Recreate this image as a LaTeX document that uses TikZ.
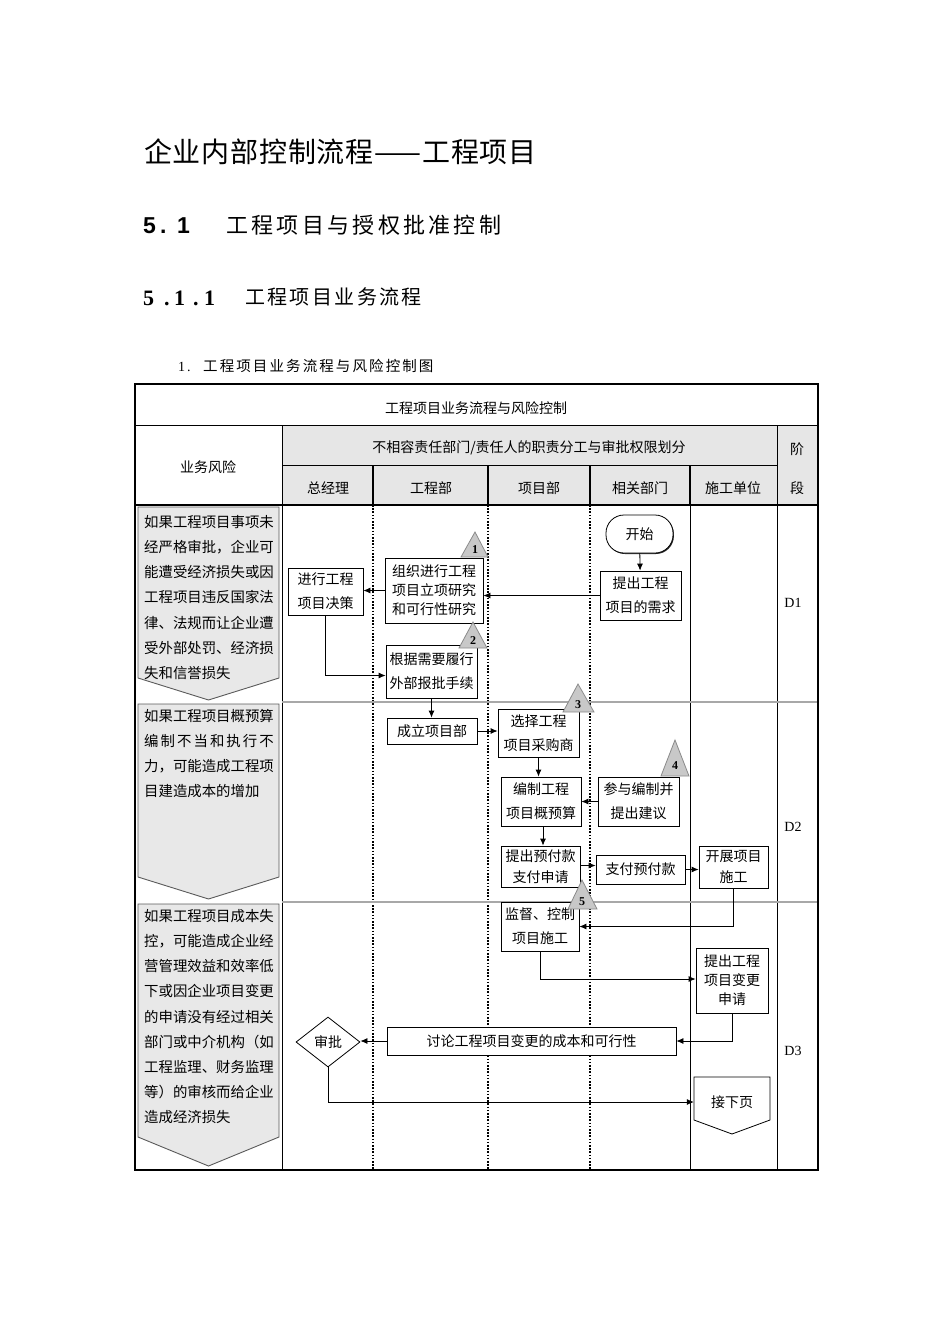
\documentclass[tikz,border=0pt]{standalone}
\usepackage{fontspec}
\setmainfont{Liberation Serif}
\newfontfamily\cjk{Noto Sans CJK SC}
\newfontfamily\arialf{Liberation Sans}
\usetikzlibrary{arrows.meta,shapes.geometric,shadows,calc}
\definecolor{hdr}{HTML}{E6E6E6}
\definecolor{riskfill}{HTML}{E8E8E8}
\definecolor{riskline}{HTML}{5A5A5A}
\definecolor{trifill}{HTML}{C8C8C8}
\definecolor{triline}{HTML}{8A8A8A}
\definecolor{rowline}{HTML}{A8A8A8}
\makeatletter
\def\sp@ced#1{\ifx#1\relax\else#1\hskip\spgap\relax\expandafter\sp@ced\fi}
\newcommand\spc[2]{\def\spgap{#2}\sp@ced#1\relax}
\makeatother
\begin{document}
\begin{tikzpicture}[x=1pt,y=-1pt,
  box/.style={draw, line width=0.8pt, fill=white, align=center, inner sep=1pt,
    font=\cjk\fontsize{14}{24}\selectfont,
    drop shadow={shadow xshift=0.9pt, shadow yshift=-1pt, opacity=1, fill=black!85}},
  arr/.style={-{Latex[length=7pt,width=6pt]}, line width=0.8pt},
  plain/.style={line width=0.8pt},
  tbl/.style={font=\cjk\fontsize{14}{14}\selectfont, inner sep=0pt},
  risktext/.style={anchor=north west, inner sep=0pt, align=left,
    font=\cjk\fontsize{14.4}{25.2}\selectfont},
  riskshape/.style={draw=riskline, fill=riskfill, line width=0.9pt},
  trist/.style={draw=triline, fill=trifill, line width=0.8pt},
  trinum/.style={inner sep=0pt, font=\bfseries\fontsize{12}{12}\selectfont},
  dotline/.style={line width=1.3pt, dash pattern=on 1.6pt off 1.6pt},
  stage/.style={inner sep=0pt, font=\fontsize{14}{14}\selectfont},
  hd/.style={anchor=base west, inner sep=0pt}
]
\useasboundingbox (0,0) rectangle (950,1344);

% ---------- headings ----------
\node[anchor=west, inner sep=0pt, font=\cjk\fontsize{28}{28}\selectfont] (title) at (144,152) {\spc{企业内部控制流程}{0.8pt}——\hskip0.8pt\spc{工程项目}{0.8pt}};

\node[hd, font=\arialf\bfseries\fontsize{23}{23}\selectfont] (h2a) at (143,233) {5};
\node[hd, font=\arialf\bfseries\fontsize{23}{23}\selectfont] (h2b) at (160,233) {.};
\node[hd, font=\arialf\bfseries\fontsize{23}{23}\selectfont] (h2c) at (177,233) {1};
\node[anchor=west, inner sep=0pt, font=\cjk\fontsize{22}{22}\selectfont] (h2t) at (226,225) {\spc{工程项目与授权批准控制}{3.3pt}};

\node[hd, font=\bfseries\fontsize{22}{22}\selectfont] (h3a) at (143,305) {5};
\node[hd, font=\bfseries\fontsize{22}{22}\selectfont] (h3b) at (164,305) {.};
\node[hd, font=\bfseries\fontsize{22}{22}\selectfont] (h3c) at (174,305) {1};
\node[hd, font=\bfseries\fontsize{22}{22}\selectfont] (h3d) at (193,305) {.};
\node[hd, font=\bfseries\fontsize{22}{22}\selectfont] (h3e) at (204,305) {1};
\node[anchor=west, inner sep=0pt, font=\cjk\fontsize{20}{20}\selectfont] (h3t) at (245,297) {\spc{工程项目业务流程}{2.4pt}};

\node[hd, font=\fontsize{14}{14}\selectfont] (capn) at (178,371) {1};
\node[hd, font=\fontsize{14}{14}\selectfont] (capd) at (187,371) {.};
\node[anchor=west, inner sep=0pt, font=\cjk\fontsize{14.5}{14.5}\selectfont] (capt) at (203,366) {\spc{工程项目业务流程与风险控制图}{2.1pt}};

% ---------- table frame ----------
\fill[hdr] (282,425) rectangle (818,505);
\draw[line width=1pt] (135,425) -- (818,425);
\draw[line width=0.9pt] (282,465) -- (777,465);
\draw[line width=1.6pt] (135,505) -- (818,505);
\draw[line width=1pt] (282,425) -- (282,1170);
\draw[line width=1pt] (777,425) -- (777,1170);
\foreach \cx in {373,488,590,690} {\draw[line width=1.3pt] (\cx,465) -- (\cx,505);}
\foreach \cx in {373,488,590} {\draw[dotline] (\cx,505) -- (\cx,1170);}
\draw[line width=1pt] (690,505) -- (690,1170);
\draw[rowline, line width=1.3pt] (282,702) -- (818,702);
\draw[rowline, line width=1.3pt] (282,902) -- (818,902);
\draw[line width=1.4pt] (135,384) rectangle (818,1170);

% header texts
\node[tbl] (ttl) at (476,408) {工程项目业务流程与风险控制};
\node[tbl] (band) at (529,448) {不相容责任部门/责任人的职责分工与审批权限划分};
\node[tbl] (riskh) at (208,467) {业务风险};
\node[tbl] (c1) at (328,488) {总经理};
\node[tbl] (c2) at (431,488) {工程部};
\node[tbl] (c3) at (539,488) {项目部};
\node[tbl] (c4) at (640,488) {相关部门};
\node[tbl] (c5) at (733,488) {施工单位};
\node[tbl] (s1) at (797,449) {阶};
\node[tbl] (s2) at (797,488) {段};
\node[stage] (d1) at (793,603) {D1};
\node[stage] (d2) at (793,827) {D2};
\node[stage] (d3) at (793,1051) {D3};

% ---------- risk column ----------
\draw[riskshape] (138,507) -- (279,507) -- (279,678) -- (208.5,700) -- (138,678) -- cycle;
\draw[riskshape] (138,704) -- (279,704) -- (279,877) -- (208.5,899) -- (138,877) -- cycle;
\draw[riskshape] (138,904) -- (279,904) -- (279,1137) -- (208.5,1166) -- (138,1137) -- cycle;

\node[risktext] (r1) at (144,515) {如果工程项目事项未\\经严格审批，企业可\\能遭受经济损失或因\\工程项目违反国家法\\律、法规而让企业遭\\受外部处罚、经济损\\失和信誉损失};
\node[risktext] (r2) at (144,709) {如果工程项目概预算\\\makebox[129.6pt][s]{编\hfill 制\hfill 不\hfill 当\hfill 和\hfill 执\hfill 行\hfill 不}\\力，可能造成工程项\\目建造成本的增加};
\node[risktext] (r3) at (144,909) {如果工程项目成本失\\控，可能造成企业经\\营管理效益和效率低\\下或因企业项目变更\\的申请没有经过相关\\部门或中介机构（如\\工程监理、财务监理\\等）的审核而给企业\\造成经济损失};

% ---------- process nodes ----------
\node[box, rounded corners=18pt, minimum width=67pt, minimum height=38pt] (start) at (639.5,534) {开始};
\node[box, minimum width=81pt, minimum height=49pt] (req) at (640.5,595.5) {提出工程\\项目的需求};
\node[box, minimum width=98pt, minimum height=65pt, font=\cjk\fontsize{14}{19}\selectfont] (org) at (434,590.5) {组织进行工程\\项目立项研究\\和可行性研究};
\node[box, minimum width=75pt, minimum height=47pt] (dec) at (325.5,591.5) {进行工程\\项目决策};
\node[box, minimum width=91pt, minimum height=53pt] (ext) at (431.5,671.5) {根据需要履行\\外部报批手续};
\node[box, minimum width=90pt, minimum height=26pt] (est) at (432,731) {成立项目部};
\node[box, minimum width=81pt, minimum height=48pt] (sel) at (538.5,733) {选择工程\\项目采购商};
\node[box, minimum width=80pt, minimum height=49pt] (bud) at (541,801.5) {编制工程\\项目概预算};
\node[box, minimum width=81pt, minimum height=49pt] (par) at (638.5,801.5) {参与编制并\\提出建议};
\node[box, minimum width=79pt, minimum height=41pt, font=\cjk\fontsize{14}{21}\selectfont] (adv) at (540.5,866.5) {提出预付款\\支付申请};
\node[box, minimum width=89pt, minimum height=29pt] (pay) at (640.5,869.5) {支付预付款};
\node[box, minimum width=69pt, minimum height=42pt, font=\cjk\fontsize{14}{21}\selectfont] (con) at (733.5,867) {开展项目\\施工};
\node[box, minimum width=78pt, minimum height=49pt] (sup) at (540,926.5) {监督、控制\\项目施工};
\node[box, minimum width=72pt, minimum height=65pt, font=\cjk\fontsize{14}{19}\selectfont] (chg) at (732,980.5) {提出工程\\项目变更\\申请};
\node[box, minimum width=289pt, minimum height=28pt] (dis) at (531.5,1041) {讨论工程项目变更的成本和可行性};
\node[draw, line width=0.8pt, fill=white, diamond, minimum width=64pt, minimum height=50pt, inner sep=0pt,
  font=\cjk\fontsize{14}{14}\selectfont] (sp) at (328,1042) {审批};

\draw[plain, fill=white] (694,1077) -- (770,1077) -- (770,1120) -- (732,1134) -- (694,1120) -- cycle;
\node[minimum width=76pt, minimum height=50pt, inner sep=0pt, font=\cjk\fontsize{14}{14}\selectfont] (next) at (732,1102) {接下页};

% ---------- risk markers ----------
\draw[trist] (475,532) -- (488,557) -- (461,557) -- cycle;
\node[trinum] (t1) at (475,550) {1};
\draw[trist] (473,622) -- (487,648) -- (459,648) -- cycle;
\node[trinum] (t2) at (473,641) {2};
\draw[trist] (578,684) -- (594,712) -- (563,712) -- cycle;
\node[trinum] (t3) at (578,705) {3};
\draw[trist] (675,740) -- (689,776) -- (661,776) -- cycle;
\node[trinum] (t4) at (675,766) {4};
\draw[trist] (582,880) -- (597,909) -- (568,909) -- cycle;
\node[trinum] (t5) at (582,902) {5};

% ---------- connectors ----------
\draw[arr] (start) -- (req);
\draw[arr] (req.west) -- (req.west -| org.east);
\draw[arr] (org.west) -- (org.west -| dec.east);
\draw[arr] (dec.south) |- ([yshift=-4pt]ext.west);
\draw[arr] (ext.south) -- (ext.south |- est.north);
\draw[arr] (est.east) -- (est.east -| sel.west);
\draw[arr] (sel.south) -- (sel.south |- bud.north);
\draw[arr] (par.west) -- (par.west -| bud.east);
\draw[arr] ([xshift=2pt]bud.south) -- ([xshift=2pt]bud.south |- adv.north);
\draw[arr] ([yshift=1pt]adv.east) -- ([yshift=1pt]adv.east -| pay.west);
\draw[arr] (pay.east) -- (pay.east -| con.west);
\draw[arr] (con.south) |- (sup.east);
\draw[arr] (sup.south) |- ([yshift=1.5pt]chg.west);
\draw[arr] (chg.south) |- (dis.east);
\draw[arr] (dis.west) -- (dis.west -| sp.east);
\draw[arr] (sp.south) |- (next.west);
\end{tikzpicture}
\end{document}
